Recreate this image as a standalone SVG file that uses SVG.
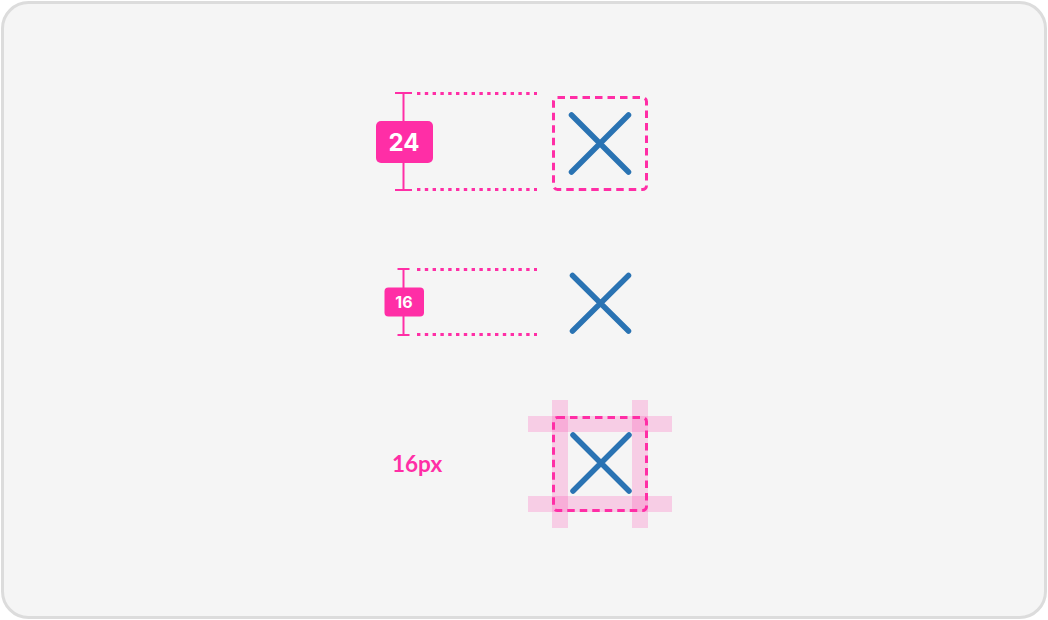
<svg xmlns="http://www.w3.org/2000/svg" width="1048" height="620" viewBox="0 0 1048 620">
  <style>
    .frame { fill: #f5f5f5; stroke: #dcdcdc; stroke-width: 3; }
    .dim { stroke: #ff2ea6; stroke-width: 2; fill: none; }
    .dots { stroke: #ff2ea6; stroke-width: 3; stroke-dasharray: 3.4 4.4; fill: none; }
    .dash { stroke: #ff2ea6; stroke-width: 3; stroke-dasharray: 7.5 5; fill: none; }
    .badge { fill: #ff2ea6; }
    .btxt { fill: #ffffff; font-family: Inter, "Liberation Sans", sans-serif; font-weight: 700; text-anchor: middle; }
    .icon { stroke: #2a73b3; stroke-width: 5.5; stroke-linecap: round; fill: none; }
    .band { fill: #ff2ea6; fill-opacity: 0.2; }
    .label { fill: #ff2ea6; font-family: Lato, "Liberation Sans", sans-serif; font-weight: 700; font-size: 22.5px; }
  </style>
  <rect class="frame" x="2.5" y="2.5" width="1043" height="615" rx="26"/>

  <g id="connectors">
    <line class="dots" x1="417" y1="93.5" x2="537" y2="93.5"/>
    <line class="dots" x1="417" y1="189.5" x2="537" y2="189.5"/>
    <line class="dots" x1="417" y1="269.5" x2="537" y2="269.5"/>
    <line class="dots" x1="417" y1="334.5" x2="537" y2="334.5"/>
  </g>

  <g id="measure-24">
    <line class="dim" x1="403.5" y1="93" x2="403.5" y2="190"/>
    <line class="dim" x1="395" y1="93" x2="412" y2="93"/>
    <line class="dim" x1="395" y1="190" x2="412" y2="190"/>
    <rect class="badge" x="376" y="121" width="57" height="42" rx="5"/>
    <text class="btxt" x="404" y="151" font-size="24">24</text>
  </g>

  <g id="icon-24">
    <rect class="dash" x="553.5" y="97.5" width="93" height="92" rx="4"/>
    <path class="icon" d="M571.5 115 L628.5 172 M628.5 115 L571.5 172"/>
  </g>

  <g id="measure-16">
    <line class="dim" x1="403.5" y1="269" x2="403.5" y2="335"/>
    <line class="dim" x1="397.5" y1="269" x2="409.5" y2="269"/>
    <line class="dim" x1="397.5" y1="335" x2="409.5" y2="335"/>
    <rect class="badge" x="384.5" y="287.5" width="39.5" height="29" rx="4"/>
    <text class="btxt" x="404" y="308" font-size="16" font-weight="600">16</text>
  </g>

  <g id="icon-16">
    <path class="icon" d="M572.5 275.5 L628.5 331 M628.5 275.5 L572.5 331"/>
  </g>

  <g id="label-16px">
    <text class="label" x="392" y="472">16px</text>
  </g>

  <g id="icon-padding">
    <rect class="band" x="552" y="400" width="16" height="128"/>
    <rect class="band" x="632" y="400" width="16" height="128"/>
    <rect class="band" x="528" y="416" width="144" height="16"/>
    <rect class="band" x="528" y="496" width="144" height="16"/>
    <rect class="dash" x="553.5" y="417.5" width="93" height="93" rx="4"/>
    <path class="icon" d="M573 435 L629 491 M629 435 L573 491"/>
  </g>
</svg>
